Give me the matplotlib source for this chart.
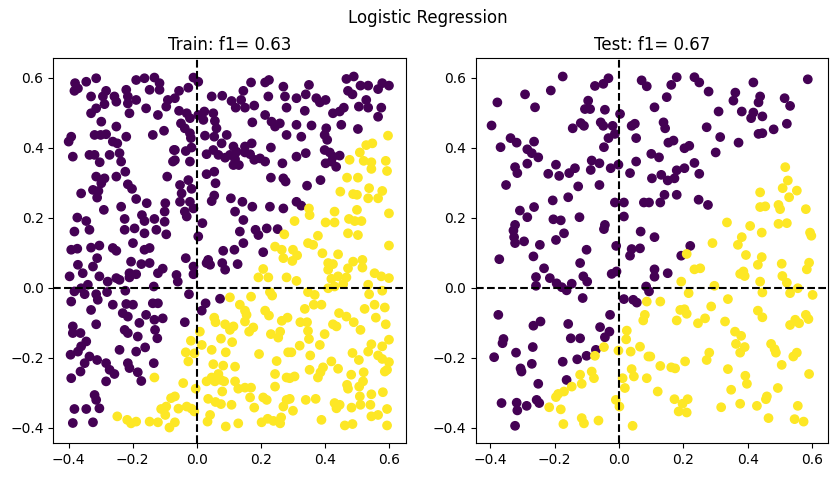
import numpy as np
import matplotlib
matplotlib.use("Agg")
import matplotlib.pyplot as plt

suptitle_text = "Logistic Regression"
train_title = "Train: f1= 0.63"
test_title = "Test: f1= 0.67"
ticks_x = [-0.4, -0.2, 0.0, 0.2, 0.4, 0.6]
ticks_y = [-0.4, -0.2, 0.0, 0.2, 0.4, 0.6]

# Train points predicted as class 0 (purple)
train_class0 = [
    (-0.380,0.584),(-0.371,0.569),(-0.382,0.562),(-0.345,0.588),(-0.314,0.598),(-0.189,0.593),(-0.163,0.598),
    (-0.132,0.600),(-0.147,0.565),(-0.116,0.565),(-0.116,0.584),(-0.330,0.546),(-0.293,0.546),(-0.283,0.562),
    (-0.288,0.524),(-0.257,0.546),(-0.251,0.531),(-0.220,0.565),(-0.215,0.546),(-0.215,0.526),(-0.189,0.536),
    (-0.210,0.498),(-0.314,0.512),(-0.330,0.498),(-0.158,0.512),(-0.121,0.493),(-0.095,0.517),(-0.090,0.536),
    (-0.298,0.474),(-0.251,0.460),(-0.392,0.431),(-0.400,0.417),(-0.319,0.436),(-0.300,0.436),(-0.283,0.438),
    (-0.262,0.417),(-0.248,0.412),(-0.220,0.431),(-0.137,0.436),(-0.102,0.448),(-0.071,0.393),(-0.387,0.374),
    (-0.335,0.379),(-0.319,0.379),(-0.303,0.358),(-0.272,0.379),(-0.241,0.384),(-0.236,0.360),(-0.074,0.360),
    (-0.314,0.317),(-0.288,0.312),(-0.298,0.298),(-0.251,0.317),(-0.223,0.331),(-0.215,0.295),(-0.202,0.282),
    (-0.092,0.317),(-0.361,0.269),(-0.324,0.279),(-0.307,0.276),(-0.311,0.257),(-0.189,0.253),(-0.290,0.222),
    (-0.236,0.231),(-0.156,0.241),(-0.098,0.241),(-0.100,0.217),(-0.373,0.200),(-0.345,0.190),(-0.335,0.165),
    (-0.225,0.196),(-0.171,0.207),(-0.163,0.190),(-0.132,0.196),(-0.100,0.188),(-0.382,0.160),(-0.225,0.165),
    (-0.194,0.169),(-0.163,0.155),(-0.126,0.165),(-0.095,0.152),
    (-0.010,0.600),(0.005,0.588),(-0.026,0.571),(-0.055,0.562),(-0.068,0.541),(0.047,0.546),(0.080,0.548),
    (0.109,0.533),(0.122,0.514),(0.139,0.536),(0.151,0.514),(0.146,0.562),(0.170,0.586),(0.180,0.520),
    (0.214,0.586),(0.226,0.593),(0.224,0.546),(0.271,0.574),(0.276,0.546),(0.281,0.514),(-0.055,0.505),
    (-0.031,0.498),(-0.021,0.484),(0.005,0.493),(0.024,0.503),(0.052,0.498),(0.021,0.479),(0.057,0.476),
    (0.062,0.455),(-0.049,0.469),(-0.037,0.455),(-0.021,0.441),(-0.018,0.427),(0.026,0.434),(0.055,0.431),
    (0.094,0.436),(0.078,0.412),(0.115,0.403),(0.174,0.472),(0.214,0.493),(0.234,0.474),(0.245,0.460),
    (0.260,0.469),(0.281,0.436),(-0.068,0.393),(-0.034,0.390),(-0.016,0.400),(0.031,0.381),(0.052,0.393),
    (0.068,0.379),(0.089,0.371),(0.104,0.379),(0.120,0.367),(0.125,0.388),(0.151,0.403),(0.172,0.412),
    (0.151,0.386),(0.167,0.381),(0.180,0.365),(0.198,0.369),(0.214,0.360),(0.232,0.400),(-0.068,0.364),
    (-0.021,0.360),(0.115,0.350),(0.132,0.350),(0.268,0.355),(0.031,0.324),(0.055,0.331),(0.059,0.298),
    (0.232,0.314),(0.271,0.312),(0.278,0.303),(-0.052,0.293),(-0.026,0.307),(-0.016,0.282),(-0.047,0.269),
    (-0.052,0.245),(-0.021,0.245),(-0.010,0.226),(-0.037,0.217),(0.047,0.247),(0.055,0.263),(0.107,0.255),
    (0.143,0.245),(0.174,0.231),(0.120,0.217),(0.146,0.193),(0.229,0.231),(0.271,0.226),(-0.031,0.203),
    (0.018,0.184),(0.005,0.146),(0.135,0.160),(0.184,0.165),(0.193,0.150),(0.219,0.169),(0.253,0.167),
    (0.351,0.579),(0.341,0.552),(0.312,0.541),(0.374,0.541),(0.385,0.529),(0.403,0.536),(0.338,0.505),
    (0.312,0.465),(0.327,0.431),(0.359,0.463),(0.468,0.596),(0.491,0.603),(0.473,0.562),(0.487,0.552),
    (0.512,0.577),(0.536,0.577),(0.567,0.567),(0.580,0.584),(0.601,0.577),(0.530,0.536),(0.507,0.517),
    (0.536,0.514),(0.577,0.514),(0.567,0.488),(0.460,0.514),(0.447,0.503),(0.426,0.498),(0.452,0.465),
    (0.504,0.453),(0.405,0.455),(0.400,0.436),(0.408,0.422),(0.400,0.393),(0.416,0.386),(0.426,0.374),
    (0.447,0.377),(0.403,0.355),(0.421,0.360),(0.436,0.345),(0.312,0.374),(0.341,0.384),(0.345,0.291),
    (0.387,0.307),(0.312,0.245),(0.327,0.234),
    (-0.392,0.108),(-0.373,0.111),(-0.330,0.114),(-0.304,0.120),(-0.262,0.113),(-0.251,0.105),(-0.199,0.127),
    (-0.163,0.108),(-0.147,0.113),(-0.311,0.084),(-0.371,0.065),(-0.324,0.060),(-0.356,0.041),(-0.397,0.032),
    (-0.304,0.032),(-0.278,0.017),(-0.251,0.027),(-0.241,0.022),(-0.205,0.074),(-0.173,0.067),(-0.147,0.070),
    (-0.106,0.054),(-0.121,0.041),(-0.210,0.041),(-0.210,0.029),(-0.189,0.038),(-0.340,0.008),(-0.361,-0.002),
    (-0.382,-0.011),(-0.392,-0.040),(-0.350,-0.019),(-0.314,-0.019),(-0.309,-0.035),(-0.280,-0.013),
    (-0.223,-0.009),(-0.134,0.003),(-0.262,-0.049),(-0.220,-0.047),(-0.199,-0.049),(-0.330,-0.064),
    (-0.231,-0.073),(-0.215,-0.083),(-0.137,-0.045),(-0.121,-0.045),(-0.158,-0.078),(-0.132,-0.092),
    (-0.106,-0.088),(-0.387,-0.111),(-0.387,-0.130),(-0.363,-0.130),(-0.314,-0.105),(-0.179,-0.101),
    (-0.225,-0.121),(-0.215,-0.130),(-0.130,-0.121),(-0.184,-0.140),(-0.123,-0.145),(-0.345,-0.154),
    (-0.361,-0.168),(-0.371,-0.183),(-0.394,-0.192),(-0.335,-0.197),(-0.241,-0.178),(-0.189,-0.183),
    (-0.161,-0.171),(-0.350,-0.216),(-0.311,-0.207),(-0.283,-0.216),(-0.215,-0.216),(-0.210,-0.230),
    (-0.272,-0.235),(-0.257,-0.247),(-0.363,-0.240),(-0.392,-0.259),(-0.283,-0.268),(-0.184,-0.242),
    (-0.173,-0.267),(-0.134,-0.216),(-0.319,-0.307),(-0.314,-0.321),(-0.304,-0.345),(-0.382,-0.347),
    (-0.345,-0.347),(-0.324,-0.385),(-0.387,-0.387),
    (-0.034,0.084),(0.036,0.079),(0.042,0.065),(0.031,0.070),(-0.010,0.060),(-0.010,0.038),(-0.063,0.036),
    (-0.059,0.017),(0.083,0.105),(0.118,0.108),(0.146,0.127),(0.080,0.070),(0.089,0.051),(0.128,0.067),
    (0.208,0.101),(-0.024,-0.019),(0.073,-0.032),(0.028,-0.045),(0.016,-0.066),(-0.037,-0.099),
]

# Train points predicted as class 1 (yellow)
train_class1 = [
    (0.274,0.152),
    (0.598,0.434),(0.530,0.407),(0.549,0.412),(0.510,0.386),(0.478,0.365),(0.522,0.362),(0.546,0.358),
    (0.546,0.339),(0.591,0.362),(0.595,0.333),(0.470,0.314),(0.504,0.314),(0.449,0.274),(0.489,0.267),
    (0.501,0.265),(0.539,0.284),(0.536,0.255),(0.567,0.255),(0.580,0.276),(0.351,0.226),(0.353,0.207),
    (0.431,0.217),(0.501,0.222),(0.601,0.212),(0.306,0.190),(0.403,0.186),(0.431,0.186),(0.476,0.196),
    (0.494,0.190),(0.515,0.190),(0.473,0.155),(0.504,0.150),(0.379,0.148),
    (-0.132,-0.257),(-0.248,-0.368),(-0.217,-0.378),(-0.205,-0.388),(-0.189,-0.383),(-0.147,-0.383),
    (-0.121,-0.385),(-0.111,-0.347),(-0.095,-0.340),(-0.098,-0.364),(-0.085,-0.400),(-0.080,-0.316),
    (0.245,0.117),(0.266,0.108),(0.271,0.084),(0.208,0.053),(0.193,0.029),(0.224,0.029),(0.281,0.029),
    (0.104,-0.028),(0.170,-0.026),(0.229,-0.013),(0.236,-0.023),(0.135,-0.049),(0.151,-0.066),(0.156,-0.078),
    (0.151,-0.097),(0.055,-0.086),(0.059,-0.099),(0.089,-0.105),(0.104,-0.121),(0.115,-0.111),(0.177,-0.114),
    (0.164,-0.126),(0.214,-0.066),(0.226,-0.080),(0.266,-0.095),(0.284,-0.086),(0.232,-0.133),(0.261,-0.126),
    (0.255,-0.143),(0.010,-0.126),(-0.018,-0.152),(0.016,-0.164),(-0.034,-0.185),(-0.007,-0.188),
    (-0.026,-0.211),(0.076,-0.146),(0.111,-0.156),(0.047,-0.178),(0.091,-0.185),(0.195,-0.190),(0.286,-0.185),
    (0.052,-0.219),(0.083,-0.223),(0.120,-0.226),(0.250,-0.210),(0.245,-0.247),(0.281,-0.257),(-0.042,-0.273),
    (0.031,-0.268),(0.047,-0.257),(0.057,-0.268),(0.068,-0.247),(0.076,-0.264),(0.086,-0.268),(0.080,-0.297),
    (0.120,-0.268),(0.130,-0.289),(0.151,-0.286),(0.170,-0.286),(-0.003,-0.289),(0.245,-0.283),(-0.068,-0.311),
    (0.167,-0.314),(0.208,-0.314),(0.219,-0.321),(0.036,-0.318),(0.059,-0.327),(0.076,-0.333),(0.109,-0.335),
    (0.180,-0.343),(-0.057,-0.346),(-0.031,-0.340),(-0.016,-0.346),(-0.007,-0.354),(0.281,-0.321),
    (0.271,-0.340),(0.042,-0.364),(0.034,-0.383),(-0.068,-0.385),(0.130,-0.388),(0.091,-0.397),(0.203,-0.385),
    (0.222,-0.375),(0.240,-0.381),(0.264,-0.371),(0.261,-0.388),
    (0.348,0.127),(0.364,0.122),(0.393,0.098),(0.442,0.095),(0.601,0.120),(0.301,0.108),(0.314,0.092),
    (0.299,0.076),(0.411,0.070),(0.426,0.067),(0.411,0.051),(0.473,0.055),(0.489,0.074),(0.518,0.079),
    (0.518,0.057),(0.556,0.041),(0.577,0.032),(0.601,0.027),(0.312,0.019),(0.421,0.025),(0.442,0.032),
    (0.468,0.029),(0.458,0.010),(0.411,-0.002),(0.431,0.003),(0.536,0.008),(0.348,-0.013),(0.369,-0.021),
    (0.539,-0.019),(0.580,-0.009),(0.366,-0.049),(0.390,-0.049),(0.338,-0.061),(0.525,-0.061),(0.556,-0.049),
    (0.588,-0.057),(0.560,-0.086),(0.591,-0.105),(0.324,-0.099),(0.345,-0.099),(0.348,-0.124),(0.351,-0.147),
    (0.400,-0.133),(0.426,-0.105),(0.437,-0.111),(0.445,-0.073),(0.468,-0.083),(0.491,-0.099),(0.512,-0.121),
    (0.385,-0.164),(0.322,-0.166),(0.296,-0.185),(0.355,-0.194),(0.546,-0.162),(0.580,-0.168),(0.601,-0.149),
    (0.536,-0.183),(0.567,-0.194),(0.580,-0.204),(0.601,-0.213),(0.487,-0.187),(0.507,-0.207),(0.421,-0.211),
    (0.395,-0.228),(0.387,-0.242),(0.379,-0.257),(0.353,-0.235),(0.442,-0.232),(0.483,-0.249),(0.522,-0.242),
    (0.520,-0.268),(0.508,-0.283),(0.470,-0.278),(0.473,-0.289),(0.588,-0.240),(0.595,-0.235),(0.582,-0.299),
    (0.546,-0.305),(0.291,-0.259),(0.306,-0.254),(0.291,-0.318),(0.341,-0.321),(0.372,-0.318),(0.301,-0.352),
    (0.431,-0.330),(0.447,-0.335),(0.437,-0.345),(0.484,-0.343),(0.510,-0.311),(0.512,-0.335),(0.543,-0.335),
    (0.546,-0.368),(0.567,-0.364),(0.595,-0.347),(0.390,-0.378),(0.463,-0.394),(0.487,-0.390),(0.595,-0.394),
]

# Test points predicted as class 0 (purple)
test_class0 = [
    (-0.175,0.603),(-0.212,0.563),(-0.292,0.552),(-0.378,0.529),(-0.261,0.515),(-0.396,0.463),(-0.075,0.576),
    (-0.049,0.582),(-0.033,0.598),(-0.096,0.534),(-0.106,0.510),(-0.090,0.510),(-0.044,0.508),(0.003,0.496),
    (0.070,0.592),(0.086,0.575),(-0.144,0.455),(-0.119,0.470),(-0.109,0.462),(-0.057,0.472),(-0.049,0.462),
    (-0.020,0.462),(-0.013,0.439),(-0.033,0.427),(-0.047,0.401),(0.039,0.462),(0.049,0.468),(0.053,0.427),
    (-0.337,0.427),(-0.318,0.414),(-0.264,0.417),(-0.368,0.401),(-0.285,0.395),(-0.271,0.384),(-0.251,0.372),
    (-0.323,0.344),(-0.316,0.327),(-0.285,0.354),(-0.351,0.293),(-0.220,0.325),(-0.196,0.351),(-0.186,0.319),
    (-0.155,0.327),(-0.137,0.341),(-0.127,0.289),(-0.085,0.363),(-0.088,0.336),(-0.061,0.355),(-0.061,0.293),
    (-0.026,0.341),(-0.002,0.351),(0.034,0.327),(0.053,0.360),(-0.206,0.249),(-0.158,0.258),(-0.308,0.220),
    (-0.264,0.230),(-0.285,0.201),(-0.204,0.195),(-0.181,0.192),(-0.123,0.201),(-0.013,0.243),(0.015,0.243),
    (0.015,0.203),(-0.044,0.179),(-0.047,0.167),(0.077,0.243),(-0.323,0.179),(-0.328,0.163),(-0.326,0.144),
    (-0.323,0.127),(-0.295,0.132),(-0.246,0.122),(-0.196,0.136),(-0.171,0.155),(0.067,0.160),(-0.101,0.108),
    (-0.009,0.119),(0.039,0.110),(0.065,0.112),
    (0.179,0.601),(0.162,0.579),(0.234,0.601),(0.249,0.586),(0.278,0.560),(0.148,0.544),(0.110,0.515),
    (0.309,0.503),(0.361,0.557),(0.355,0.534),(0.381,0.503),(0.417,0.586),(0.438,0.546),(0.433,0.529),
    (0.417,0.500),(0.410,0.484),(0.445,0.489),(0.514,0.541),(0.531,0.519),(0.586,0.595),(0.138,0.472),
    (0.143,0.455),(0.272,0.458),(0.314,0.430),(0.371,0.414),(0.433,0.439),(0.445,0.441),(0.480,0.452),
    (0.521,0.468),(0.153,0.414),(0.169,0.420),(0.203,0.398),(0.218,0.405),(0.100,0.382),(0.124,0.372),
    (0.300,0.386),(0.234,0.356),(0.179,0.335),(0.203,0.341),(0.249,0.325),(0.131,0.322),(0.102,0.312),
    (0.151,0.306),(0.172,0.312),(0.141,0.265),(0.179,0.265),(0.093,0.243),(0.128,0.243),(0.247,0.251),
    (0.276,0.236),(0.110,0.144),(0.221,0.119),
    (-0.372,0.081),(-0.266,0.089),(-0.121,0.070),(-0.233,0.055),(-0.258,0.030),(-0.258,0.005),(-0.215,0.027),
    (-0.194,0.012),(-0.178,0.001),(-0.163,-0.008),(-0.147,0.011),(-0.111,0.032),(-0.099,0.017),(-0.113,-0.030),
    (-0.023,0.039),(-0.008,0.046),(0.015,-0.033),(0.044,-0.035),(0.055,-0.043),(0.034,0.091),(0.084,0.003),
    (-0.375,-0.078),(-0.244,-0.097),(-0.266,-0.109),(-0.158,-0.104),(-0.150,-0.145),(-0.121,-0.145),
    (-0.059,-0.113),(-0.028,-0.078),(-0.030,-0.126),(-0.044,-0.142),(-0.359,-0.147),(-0.362,-0.159),
    (-0.388,-0.199),(-0.320,-0.186),(-0.268,-0.170),(-0.271,-0.218),(-0.306,-0.231),(-0.303,-0.240),
    (-0.175,-0.212),(-0.130,-0.205),(-0.101,-0.195),(-0.072,-0.178),(-0.163,-0.264),(-0.251,-0.275),
    (-0.256,-0.321),(-0.248,-0.330),(-0.365,-0.330),(-0.318,-0.329),(-0.316,-0.351),(-0.287,-0.338),
    (-0.323,-0.395),
    (0.193,0.091),(0.110,0.052),(0.110,0.031),(0.151,0.041),(0.093,-0.011),
]

# Test points predicted as class 1 (yellow)
test_class1 = [
    (0.516,0.344),(0.524,0.306),(0.508,0.284),(0.552,0.277),(0.528,0.258),(0.438,0.272),(0.438,0.230),
    (0.454,0.232),(0.495,0.236),(0.500,0.224),(0.580,0.224),(0.335,0.186),(0.407,0.176),(0.443,0.157),
    (0.495,0.182),(0.521,0.184),(0.593,0.157),(0.597,0.148),(0.290,0.127),(0.381,0.144),(0.369,0.122),
    (-0.047,-0.170),(-0.002,-0.180),(-0.075,-0.195),(0.024,-0.123),(0.022,-0.148),(0.036,-0.183),(0.065,-0.169),
    (0.075,-0.094),(0.080,-0.078),(0.086,-0.040),(0.091,-0.197),(0.039,-0.233),(0.046,-0.254),(0.086,-0.259),
    (0.011,-0.259),(0.018,-0.287),(-0.010,-0.321),(0.001,-0.340),(0.042,-0.395),(-0.121,-0.249),(-0.085,-0.240),
    (-0.078,-0.259),(-0.116,-0.275),(-0.147,-0.283),(-0.171,-0.297),(-0.189,-0.304),(-0.196,-0.313),
    (-0.217,-0.342),(-0.181,-0.348),(-0.173,-0.390),(-0.116,-0.373),(-0.109,-0.388),(-0.064,-0.380),
    (0.210,0.096),(0.234,0.052),(0.252,0.055),(0.394,0.093),(0.443,0.087),(0.431,0.065),(0.505,0.068),
    (0.590,0.071),(0.583,0.052),(0.376,0.039),(0.386,0.046),(0.390,0.033),(0.507,0.033),(0.521,0.014),
    (0.438,0.017),(0.193,0.017),(0.296,0.005),(0.216,-0.016),(0.445,-0.014),(0.531,-0.016),(0.555,-0.002),
    (0.601,-0.021),(0.128,-0.040),(0.338,-0.033),(0.190,-0.064),(0.203,-0.062),(0.210,-0.075),(0.179,-0.094),
    (0.286,-0.054),(0.267,-0.088),(0.245,-0.102),(0.329,-0.097),(0.431,-0.066),(0.445,-0.085),(0.360,-0.126),
    (0.379,-0.138),(0.363,-0.161),(0.390,-0.170),(0.376,-0.186),(0.531,-0.107),(0.547,-0.092),(0.559,-0.102),
    (0.580,-0.078),(0.588,-0.090),(0.472,-0.161),(0.483,-0.176),(0.487,-0.186),(0.541,-0.197),(0.552,-0.186),
    (0.505,-0.221),(0.590,-0.247),(0.280,-0.186),(0.272,-0.207),(0.205,-0.211),(0.097,-0.197),(0.128,-0.224),
    (0.162,-0.228),(0.174,-0.231),(0.338,-0.233),(0.392,-0.252),(0.397,-0.275),(0.348,-0.292),(0.493,-0.287),
    (0.459,-0.311),(0.456,-0.319),(0.120,-0.297),(0.172,-0.319),(0.213,-0.319),(0.197,-0.332),(0.185,-0.354),
    (0.210,-0.357),(0.317,-0.342),(0.376,-0.332),(0.428,-0.338),(0.555,-0.338),(0.464,-0.373),(0.545,-0.376),
    (0.573,-0.383),
]

W, H = 838, 478
fig = plt.figure(figsize=(W / 100, H / 100), dpi=100)

ax_w = 352.3 / W
ax_h = 385.0 / H
ax_b = (H - 443.3) / H
ax1 = fig.add_axes([53.3 / W, ax_b, ax_w, ax_h])
ax2 = fig.add_axes([476.1 / W, ax_b, ax_w, ax_h])


def draw(ax, c0, c1, title, xlim):
    p0 = np.array(c0)
    p1 = np.array(c1)
    pts = np.vstack([p0, p1])
    labels = np.concatenate([np.zeros(len(p0)), np.ones(len(p1))])
    ax.scatter(pts[:, 0], pts[:, 1], c=labels, cmap="viridis", s=36)
    ax.axhline(0, color="black", linestyle="--")
    ax.axvline(0, color="black", linestyle="--")
    ax.set_xlim(*xlim)
    ax.set_ylim(-0.445, 0.655)
    ax.set_xticks(ticks_x)
    ax.set_yticks(ticks_y)
    ax.set_title(title, fontsize=12)


draw(ax1, train_class0, train_class1, train_title, (-0.448, 0.653))
draw(ax2, test_class0, test_class1, test_title, (-0.444, 0.650))

fig.suptitle(suptitle_text, x=428 / W, y=1 - 18 / H, va="center", fontsize=12)

fig.savefig("out.png", dpi=100)
